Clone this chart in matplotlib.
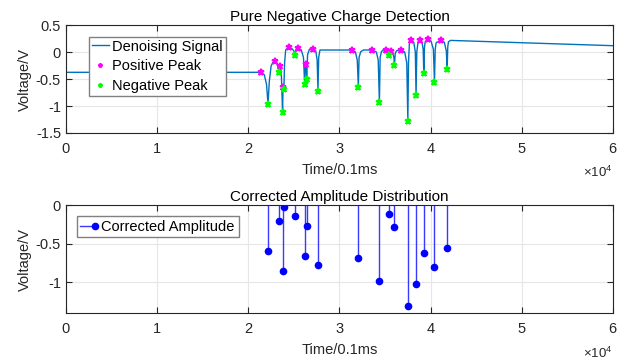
import matplotlib
matplotlib.use("Agg")
import matplotlib.pyplot as plt
import numpy as np
from matplotlib.legend_handler import HandlerBase
from matplotlib.lines import Line2D

plt.rcParams['font.family'] = ['Liberation Sans', 'DejaVu Sans']
plt.rcParams['mathtext.fontset'] = 'custom'
plt.rcParams['mathtext.rm'] = 'Liberation Sans'

# denoised signal trace (time in units of 1e4 x 0.1ms)
sig_t = [0.0, 2.138, 2.175, 2.200, 2.216, 2.230, 2.250, 2.270, 2.292, 2.315, 2.330,
         2.340, 2.347, 2.350, 2.362, 2.376, 2.380, 2.383, 2.390, 2.398, 2.410, 2.442,
         2.480, 2.500, 2.512, 2.525, 2.548, 2.580, 2.605, 2.618, 2.624, 2.629, 2.636,
         2.640, 2.650, 2.670, 2.710, 2.740, 2.755, 2.764, 2.772, 2.786, 3.134, 3.175,
         3.195, 3.207, 3.215, 3.233, 3.262, 3.357, 3.405, 3.425, 3.438, 3.446, 3.460,
         3.480, 3.511, 3.530, 3.544, 3.555, 3.566, 3.585, 3.597, 3.603, 3.612, 3.628,
         3.680, 3.715, 3.738, 3.750, 3.757, 3.767, 3.786, 3.815, 3.832, 3.840, 3.848,
         3.860, 3.885, 3.905, 3.918, 3.925, 3.932, 3.940, 3.972, 4.005, 4.030, 4.042,
         4.050, 4.060, 4.112, 4.150, 4.172, 4.181, 4.188, 4.196, 4.218, 5.0, 6.0]
sig_v = [-0.376, -0.376, -0.42, -0.60, -0.97, -0.55, -0.26, -0.19, -0.175, -0.22, -0.30,
         -0.376, -0.28, -0.265, -0.40, -1.12, -0.70, -0.655, -0.68, -0.20, 0.04, 0.087,
         0.06, 0.02, -0.056, 0.05, 0.068, 0.04, -0.10, -0.59, -0.28, -0.23, -0.30,
         -0.50, -0.05, 0.05, 0.056, 0.02, -0.15, -0.716, -0.10, 0.037, 0.037, 0.00,
         -0.15, -0.64, -0.10, 0.006, 0.037, 0.037, 0.00, -0.15, -0.93, -0.10, 0.006,
         0.037, 0.037, 0.01, -0.063, 0.01, 0.019, -0.02, -0.10, -0.247, -0.02, 0.025,
         0.037, 0.00, -0.20, -1.27, -0.20, 0.16, 0.215, 0.18, 0.00, -0.80, 0.00,
         0.16, 0.22, 0.18, 0.05, -0.39, 0.08, 0.19, 0.235, 0.20, 0.05, -0.556,
         0.05, 0.17, 0.22, 0.18, 0.02, -0.31, 0.10, 0.19, 0.215, 0.172, 0.117]

pos_t = [2.138, 2.292, 2.350, 2.383, 2.442, 2.548, 2.629, 2.710, 3.134,
         3.357, 3.511, 3.566, 3.680, 3.786, 3.885, 3.972, 4.112]
pos_v = [-0.376, -0.175, -0.265, -0.655, 0.087, 0.068, -0.23, 0.056, 0.037,
         0.037, 0.037, 0.019, 0.037, 0.215, 0.22, 0.235, 0.22]
neg_t = [2.216, 2.340, 2.376, 2.390, 2.512, 2.618, 2.640, 2.764, 3.207,
         3.438, 3.544, 3.603, 3.750, 3.840, 3.925, 4.042, 4.181]
neg_v = [-0.97, -0.376, -1.12, -0.68, -0.056, -0.59, -0.50, -0.716, -0.64,
         -0.93, -0.063, -0.247, -1.27, -0.80, -0.39, -0.556, -0.31]

# corrected amplitude per detected pulse
amp = [-0.60, -0.205, -0.855, -0.02, -0.14, -0.66, -0.27, -0.77, -0.69,
       -0.98, -0.12, -0.29, -1.31, -1.02, -0.62, -0.80, -0.55]

scale = 1e4
sig_t = np.array(sig_t) * scale
pos_t = np.array(pos_t) * scale
neg_t = np.array(neg_t) * scale

grid_col = '#e6e6e6'
txt_col = '#262626'
stem_col = '#3a3aff'
dot_col = '#0000ff'


class StemHandler(HandlerBase):
    # short line with the marker sitting at its right end
    def create_artists(self, legend, orig, xd, yd, w, h, fontsize, trans):
        y = h / 2 - yd
        ln = Line2D([-xd, -xd + w], [y, y], color=stem_col, lw=1.0)
        dot = Line2D([-xd + w], [y], marker='o', ms=4.5, color=dot_col, ls='none')
        ln.set_transform(trans)
        dot.set_transform(trans)
        return [ln, dot]


fig = plt.figure(figsize=(6.32, 3.62), dpi=100)
ax1 = fig.add_axes([0.1044, 0.6326, 0.8655, 0.2983])
ax2 = fig.add_axes([0.1044, 0.1345, 0.8655, 0.2990])

ax1.plot(sig_t, sig_v, color='#0072BD', lw=1.0, label='Denoising Signal', zorder=2)
ax1.plot(pos_t, pos_v, ls='none', marker='*', ms=5, mew=1.4, color='#ff00ff',
         label='Positive Peak', zorder=3)
ax1.plot(neg_t, neg_v, ls='none', marker='*', ms=5, mew=1.4, color='#00ff00',
         label='Negative Peak', zorder=3)
ax1.set_xlim(0, 6e4)
ax1.set_ylim(-1.5, 0.5)
ax1.set_yticks([-1.5, -1, -0.5, 0, 0.5])
ax1.set_yticklabels(['-1.5', '-1', '-0.5', '0', '0.5'])
ax1.set_title('Pure Negative Charge Detection', fontsize=11, pad=3, color='black')
ax1.legend(loc='upper left', bbox_to_anchor=(0.0415, 0.892), fontsize=10.5,
           fancybox=False, framealpha=1, edgecolor='#808080', borderpad=0.2,
           handlelength=1.2, handletextpad=0.2, labelspacing=0.4,
           borderaxespad=0, markerscale=0.6)

ml, sl, bl = ax2.stem(neg_t, amp, linefmt='-', markerfmt='o', basefmt=' ')
plt.setp(sl, color=stem_col, lw=1.0)
plt.setp(ml, color=dot_col, ms=4.5)
ax2.set_xlim(0, 6e4)
ax2.set_ylim(-1.4, 0)
ax2.set_yticks([-1, -0.5, 0])
ax2.set_yticklabels(['-1', '-0.5', '0'])
ax2.set_title('Corrected Amplitude Distribution', fontsize=11, pad=3, color='black')
ax2.legend([ml], ['Corrected Amplitude'], handler_map={type(ml): StemHandler()},
           loc='upper left', bbox_to_anchor=(0.0196, 0.898), fontsize=10.5,
           fancybox=False, framealpha=1, edgecolor='#808080', borderpad=0.25,
           handlelength=1.0, handletextpad=0.45, borderaxespad=0)

for ax in (ax1, ax2):
    ax.set_xticks(np.arange(0, 7) * scale)
    ax.ticklabel_format(style='sci', axis='x', scilimits=(0, 0), useMathText=True)
    ax.xaxis.get_offset_text().set_visible(False)
    ax.annotate(r'$\times10^4$', xy=(1, 0), xycoords='axes fraction',
                xytext=(0, -32), textcoords='offset points',
                ha='right', va='baseline', fontsize=9.5, color=txt_col)
    ax.set_xlabel('Time/0.1ms', fontsize=10.5, labelpad=5, color=txt_col)
    ax.set_ylabel('Voltage/V', fontsize=10.5, labelpad=3, color=txt_col)
    ax.grid(True, color=grid_col, lw=0.8, zorder=0)
    ax.set_axisbelow(True)
    ax.tick_params(direction='in', length=4, width=0.8, labelsize=10.5,
                   colors=txt_col, top=True, right=True)
    ax.tick_params(axis='x', pad=6.2)
    for sp in ax.spines.values():
        sp.set_color(txt_col)
        sp.set_linewidth(0.8)

fig.savefig('out.png', dpi=100)
